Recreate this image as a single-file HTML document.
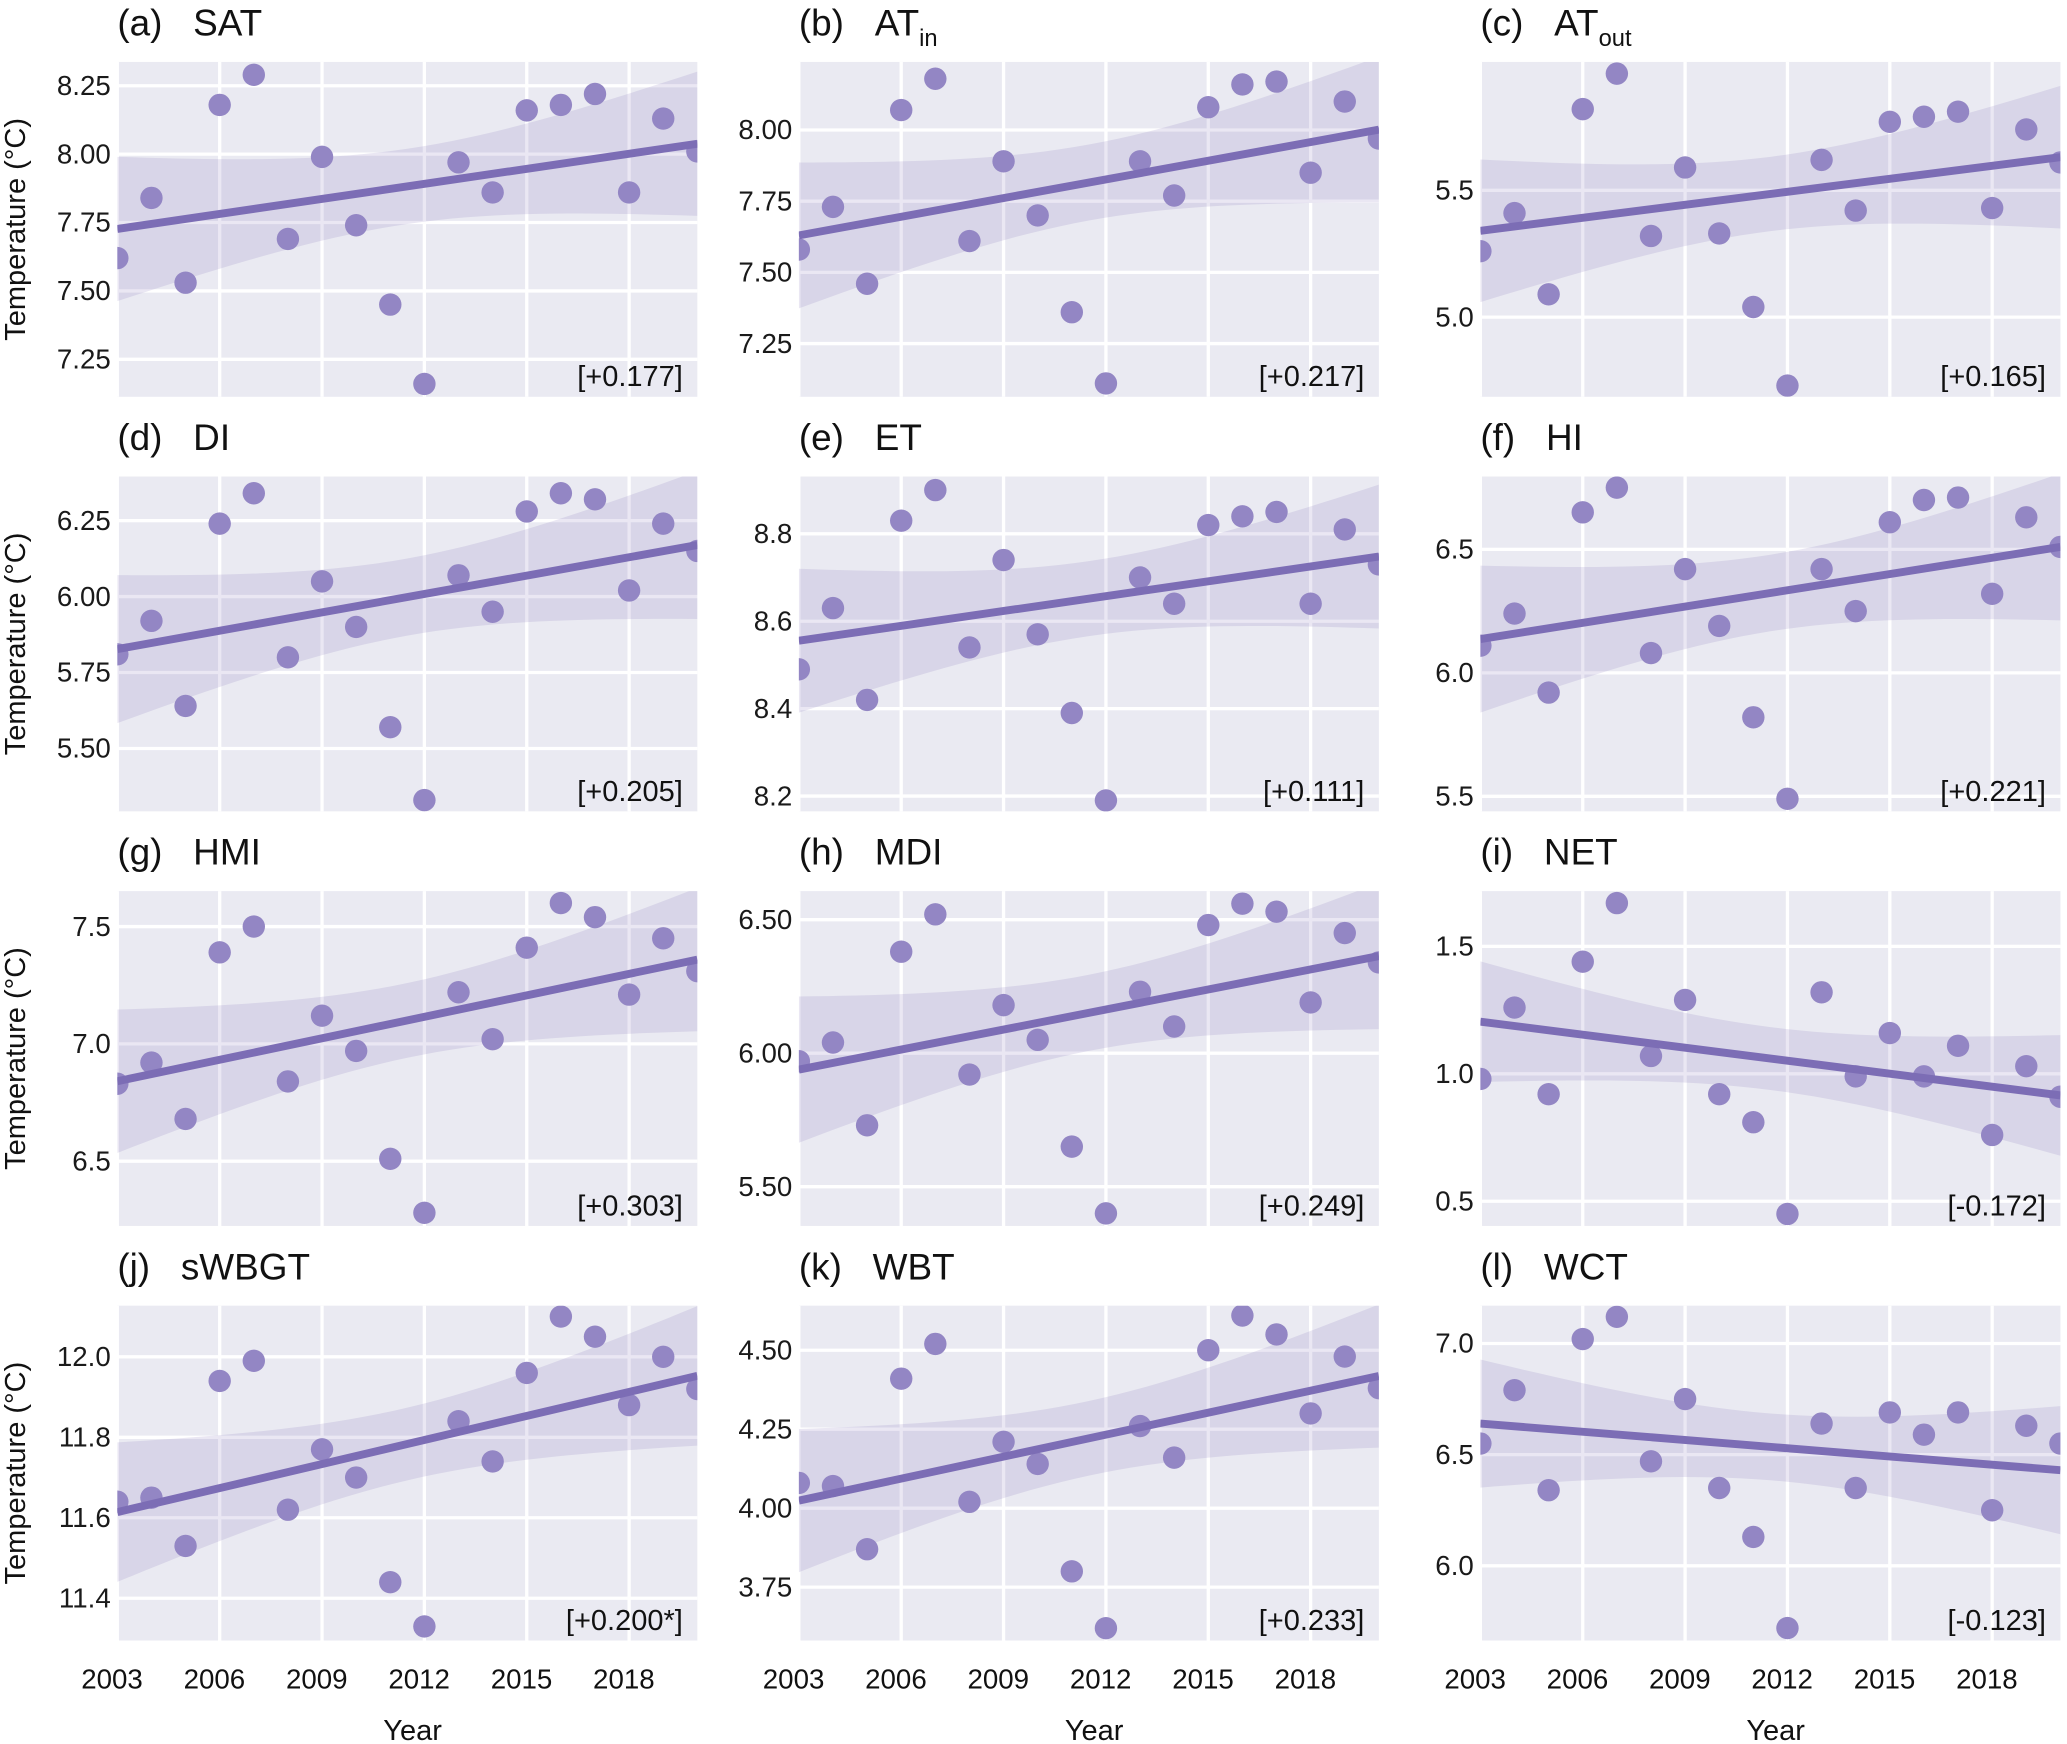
<!DOCTYPE html>
<html><head><meta charset="utf-8"><style>
html,body{margin:0;padding:0;background:#fff;}
svg{display:block;font-family:"Liberation Sans",sans-serif;}
</style></head><body>
<svg id="fig" width="2067" height="1744" viewBox="0 0 1568 1323" preserveAspectRatio="none" xmlns="http://www.w3.org/2000/svg"></svg>
<script>
const years = [2003,2004,2005,2006,2007,2008,2009,2010,2011,2012,2013,2014,2015,2016,2017,2018,2019,2020];
const xTicks = [2003,2006,2009,2012,2015,2018];
const labels = ["(a)","(b)","(c)","(d)","(e)","(f)","(g)","(h)","(i)","(j)","(k)","(l)"];
const names = ["SAT","AT|in","AT|out","DI","ET","HI","HMI","MDI","NET","sWBGT","WBT","WCT"];
const trends = ["[+0.177]","[+0.217]","[+0.165]","[+0.205]","[+0.111]","[+0.221]","[+0.303]","[+0.249]","[-0.172]","[+0.200*]","[+0.233]","[-0.123]"];
const sSAT = [7.62,7.84,7.53,8.18,8.29,7.69,7.99,7.74,7.45,7.16,7.97,7.86,8.16,8.18,8.22,7.86,8.13,8.01];
const sATin = [7.58,7.73,7.46,8.07,8.18,7.61,7.89,7.70,7.36,7.11,7.89,7.77,8.08,8.16,8.17,7.85,8.10,7.97];
const sATout = [5.26,5.41,5.09,5.82,5.96,5.32,5.59,5.33,5.04,4.73,5.62,5.42,5.77,5.79,5.81,5.43,5.74,5.61];
const sDI = [5.81,5.92,5.64,6.24,6.34,5.80,6.05,5.90,5.57,5.33,6.07,5.95,6.28,6.34,6.32,6.02,6.24,6.15];
const sET = [8.49,8.63,8.42,8.83,8.90,8.54,8.74,8.57,8.39,8.19,8.70,8.64,8.82,8.84,8.85,8.64,8.81,8.73];
const sHI = [6.11,6.24,5.92,6.65,6.75,6.08,6.42,6.19,5.82,5.49,6.42,6.25,6.61,6.70,6.71,6.32,6.63,6.51];
const sHMI = [6.83,6.92,6.68,7.39,7.50,6.84,7.12,6.97,6.51,6.28,7.22,7.02,7.41,7.60,7.54,7.21,7.45,7.31];
const sMDI = [5.97,6.04,5.73,6.38,6.52,5.92,6.18,6.05,5.65,5.40,6.23,6.10,6.48,6.56,6.53,6.19,6.45,6.34];
const sNET = [0.98,1.26,0.92,1.44,1.67,1.07,1.29,0.92,0.81,0.45,1.32,0.99,1.16,0.99,1.11,0.76,1.03,0.91];
const sSWBGT = [11.64,11.65,11.53,11.94,11.99,11.62,11.77,11.70,11.44,11.33,11.84,11.74,11.96,12.10,12.05,11.88,12.00,11.92];
const sWBT = [4.08,4.07,3.87,4.41,4.52,4.02,4.21,4.14,3.80,3.62,4.26,4.16,4.50,4.61,4.55,4.30,4.48,4.38];
const sWCT = [6.55,6.79,6.34,7.02,7.12,6.47,6.75,6.35,6.13,5.72,6.64,6.35,6.69,6.59,6.69,6.25,6.63,6.55];
const yTicksA = ["7.25","7.50","7.75","8.00","8.25"];
const yTicksB = ["7.25","7.50","7.75","8.00"];
const yTicksC = ["5.0","5.5"];
const yTicksD = ["5.50","5.75","6.00","6.25"];
const yTicksE = ["8.2","8.4","8.6","8.8"];
const yTicksF = ["5.5","6.0","6.5"];
const yTicksG = ["6.5","7.0","7.5"];
const yTicksH = ["5.50","6.00","6.50"];
const yTicksI = ["0.5","1.0","1.5"];
const yTicksJ = ["11.4","11.6","11.8","12.0"];
const yTicksK = ["3.75","4.00","4.25","4.50"];
const yTicksL = ["6.0","6.5","7.0"];
const yDomains = [[7.113,8.337],[7.063,8.239],[4.686,6.006],[5.293,6.395],[8.165,8.931],[5.439,6.795],[6.224,7.651],[5.353,6.607],[0.403,1.717],[11.295,12.127],[3.581,4.641],[5.664,7.170]];
const series = [sSAT,sATin,sATout,sDI,sET,sHI,sHMI,sMDI,sNET,sSWBGT,sWBT,sWCT];
const yTickSets = [yTicksA,yTicksB,yTicksC,yTicksD,yTicksE,yTicksF,yTicksG,yTicksH,yTicksI,yTicksJ,yTicksK,yTicksL];

const NS="http://www.w3.org/2000/svg";
const svg=document.getElementById('fig');
function mk(tag,attrs,parent){const e=document.createElementNS(NS,tag);for(const k in attrs)e.setAttribute(k,attrs[k]);(parent||svg).appendChild(e);return e;}
const colL=[89,606,1123], W=440, rowT=[47,361.5,676,990.5], H=254;
const defs=mk('defs',{});
const tcrit=1.95;
for(let p=0;p<12;p++){
  const c=p%3, r=Math.floor(p/3);
  const L=colL[c], T=rowT[r];
  const xs=v=>L+(v-2003)*(W/17);
  const [y0,y1]=yDomains[p];
  const ys=v=>T+H-(v-y0)/(y1-y0)*H;
  const g=mk('g',{});
  
  
  const cp=mk('clipPath',{id:'cp'+p},defs);
  mk('rect',{x:L,y:T,width:W,height:H},cp);
  const bg=mk('rect',{x:L,y:T,width:W,height:H,fill:'#eaeaf2'},g);
  
  
  xTicks.forEach(t=>{const ln=mk('line',{x1:xs(t),x2:xs(t),y1:T,y2:T+H,stroke:'#fff','stroke-width':2.5},g);
    });
  yTickSets[p].forEach(t=>{const v=parseFloat(t);
    const ln=mk('line',{x1:L,x2:L+W,y1:ys(v),y2:ys(v),stroke:'#fff','stroke-width':2.5},g);
    
    const tx=mk('text',{x:L-5,y:ys(v)+7,'text-anchor':'end','font-size':21,fill:'#1a1a1a'},g);tx.textContent=t;
    });
  const d=series[p], n=d.length;
  const mx=years.reduce((a,b)=>a+b)/n, my=d.reduce((a,b)=>a+b)/n;
  let sxx=0,sxy=0;years.forEach((x,i)=>{sxx+=(x-mx)**2;sxy+=(x-mx)*(d[i]-my);});
  const b=sxy/sxx,a=my-b*mx;
  let sse=0;years.forEach((x,i)=>{sse+=(d[i]-a-b*x)**2;});
  const s=Math.sqrt(sse/(n-2));
  const cg=mk('g',{'clip-path':'url(#cp'+p+')'},g);
  let up=[],lo=[];
  for(let k=0;k<=40;k++){const x=2003+17*k/40;const yh=a+b*x;const se=s*Math.sqrt(1/n+(x-mx)**2/sxx);
    up.push(xs(x)+','+ys(yh+tcrit*se));lo.unshift(xs(x)+','+ys(yh-tcrit*se));}
  const band=mk('polygon',{points:up.concat(lo).join(' '),fill:'rgba(123,107,179,0.16)'},cg);
  
  years.forEach((x,i)=>{const pt=mk('circle',{cx:xs(x),cy:ys(d[i]),r:8.5,fill:'#9386c4'},cg);
    });
  const rl=mk('line',{x1:xs(2003),y1:ys(a+b*2003),x2:xs(2020),y2:ys(a+b*2020),stroke:'#7c6db5','stroke-width':6},cg);
  
  const tt=mk('text',{x:L,y:T-20,'font-size':28,fill:'#111'},g);
  
  const parts=names[p].split('|');
  tt.textContent=labels[p]+'\u00a0\u00a0\u00a0'+parts[0];
  if(parts[1]){const ts=mk('tspan',{'font-size':18,dy:8},tt);ts.textContent=parts[1];}
  const an=mk('text',{x:L+W-11,y:T+H-8,'text-anchor':'end','font-size':22,fill:'#111'},g);
  an.textContent=trends[p];
  
  if(c===0){const yt=mk('text',{x:0,y:0,transform:`translate(19,${T+H/2}) rotate(-90)`,'text-anchor':'middle','font-size':22,fill:'#111'},g);
    yt.textContent='Temperature (°C)';
    }
  if(r===3){
    xTicks.forEach(t=>{const tx=mk('text',{x:xs(t)-4,y:1281,'text-anchor':'middle','font-size':21,fill:'#111'},g);tx.textContent=t;
      });
    const xt=mk('text',{x:L+W/2+4,y:1320,'text-anchor':'middle','font-size':22,fill:'#111'},g);xt.textContent='Year';
    
  }
}
</script>
</body></html>
